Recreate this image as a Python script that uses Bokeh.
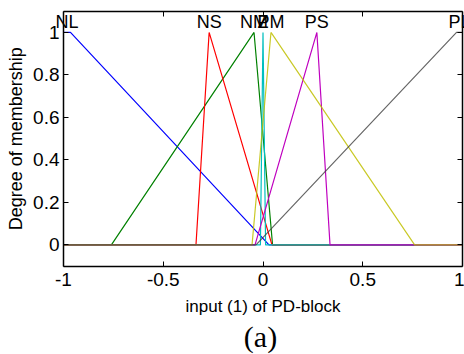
import math
from bokeh.plotting import figure
from bokeh.models import LinearAxis, FixedTicker, ColumnDataSource
from bokeh.core.properties import value
from bokeh.embed import file_html
from bokeh.resources import INLINE

# ---- data: trapezoidal membership functions (a, b, c, d) over the universe [-1, 1]
universe = [-1.0, 1.0]
mf_labels = ["NL", "NM", "NS", "Z", "PS", "PM", "PL"]          # drawing order (MATLAB colour order)
mf_a = [-2.0, -0.76, -0.336, -0.013, -0.04, -0.055, -0.035]
mf_b = [-1.0, -0.045, -0.27, 0.0, 0.27, 0.04, 0.97]
mf_c = [-0.965, -0.045, -0.27, 0.0, 0.27, 0.04, 1.0]
mf_d = [0.03, 0.048, 0.045, 0.013, 0.336, 0.76, 2.0]
mf_colors = ["#0000ff", "#008000", "#ff0000", "#00bfbf", "#bf00bf", "#bfbf00", "#404040"]

x_ticks = [-1, -0.5, 0, 0.5, 1]
x_tick_labels = ["-1", "-0.5", "0", "0.5", "1"]
y_ticks = [0, 0.2, 0.4, 0.6, 0.8, 1]
y_tick_labels = ["0", "0.2", "0.4", "0.6", "0.8", "1"]
y_lim = [-0.1, 1.1]

x_title = "input (1) of PD-block"
y_title = "Degree of membership"
caption = "(a)"


def trapmf(x, a, b, c, d):
    left = 1.0 if x >= b else ((x - a) / (b - a) if b > a else 0.0)
    right = 1.0 if x <= c else ((d - x) / (d - c) if d > c else 0.0)
    return max(min(left, 1.0, right), 0.0)


FONT = "Liberation Sans"
W, H = 464, 354
# axes box inside the full-canvas frame (pixels)
BOX_L, BOX_R, BOX_T, BOX_B = 63, 462, 10.7, 265.7
sx_unit = (BOX_R - BOX_L) / (universe[1] - universe[0])
sy_unit = (BOX_B - BOX_T) / (y_lim[1] - y_lim[0])
x_view = (universe[0] - BOX_L / sx_unit, universe[1] + (W - BOX_R) / sx_unit)
y_view = (y_lim[0] - (H - BOX_B) / sy_unit, y_lim[1] + BOX_T / sy_unit)


def px_to_x(px):
    return universe[0] + (px - BOX_L) / sx_unit


def px_to_y(py):
    return y_lim[0] - (py - BOX_B) / sy_unit


p = figure(width=W, height=H, x_range=x_view, y_range=y_view,
           output_backend="svg", toolbar_location=None,
           min_border_left=0, min_border_right=0, min_border_top=0, min_border_bottom=0)
p.grid.visible = False
p.outline_line_color = None
p.background_fill_color = "white"
p.border_fill_color = "white"

for i, name in enumerate(mf_labels):
    a, b, c, d = mf_a[i], mf_b[i], mf_c[i], mf_d[i]
    pts = sorted(set([universe[0], universe[1]] + [v for v in (a, b, c, d) if universe[0] <= v <= universe[1]]))
    ys = [trapmf(x, a, b, c, d) for x in pts]
    alpha = 0.8 if name == "PL" else (0.85 if name == "PM" else 1.0)
    p.line(pts, ys, line_color=mf_colors[i], line_width=1.2, line_alpha=alpha)

# MF names above each peak (centre of the top plateau), like MATLAB's plotmf
label_x = [min(max((mf_b[i] + mf_c[i]) / 2, universe[0]), universe[1]) for i in range(len(mf_labels))]
lab_src = ColumnDataSource(dict(x=label_x, y=[1.0] * len(mf_labels), t=mf_labels))
p.text("x", "y", text="t", source=lab_src, text_align="center", text_baseline="bottom",
       text_font=value(FONT), text_font_size="18px", text_color="black")

# axis titles and caption (bottom edge of each text box placed at the given pixel line)
mid_x = (universe[0] + universe[1]) / 2
mid_y = (y_lim[0] + y_lim[1]) / 2
p.text(x=[mid_x], y=[px_to_y(315)], text=[x_title], text_align="center", text_baseline="bottom",
       text_font=value(FONT), text_font_size="17px", text_color="black")
p.text(x=[px_to_x(25)], y=[mid_y], text=[y_title], angle=math.pi / 2, text_align="center",
       text_baseline="bottom", text_font=value(FONT), text_font_size="18px", text_color="black")
p.text(x=[px_to_x(260)], y=[px_to_y(352)], text=[caption], text_align="center", text_baseline="bottom",
       text_font=value("Liberation Serif"), text_font_size="30px", text_color="black")


def style_axis(ax, ticks, labels, show_labels=True):
    ax.ticker = FixedTicker(ticks=ticks)
    ax.major_label_overrides = {t: l for t, l in zip(ticks, labels)}
    ax.major_tick_in = 5
    ax.major_tick_out = 0
    ax.minor_tick_in = 0
    ax.minor_tick_out = 0
    ax.axis_line_color = "black"
    ax.axis_line_width = 1.5
    ax.major_tick_line_color = "black"
    ax.major_tick_line_width = 1
    ax.major_label_text_font = FONT
    ax.major_label_text_color = "black"
    if not show_labels:
        ax.major_label_text_font_size = "0px"
        ax.major_label_standoff = 0


xa = p.xaxis[0]
style_axis(xa, x_ticks, x_tick_labels)
xa.bounds = tuple(universe)
xa.fixed_location = y_lim[0]
xa.major_label_text_font_size = "19px"
xa.major_label_standoff = 7

ya = p.yaxis[0]
style_axis(ya, y_ticks, y_tick_labels)
ya.bounds = tuple(y_lim)
ya.fixed_location = universe[0]
ya.major_label_text_font_size = "19px"
ya.major_label_standoff = 4

top = LinearAxis()
style_axis(top, x_ticks, ["" for _ in x_ticks], show_labels=False)
top.bounds = tuple(universe)
top.fixed_location = y_lim[1]
p.add_layout(top, "above")

right = LinearAxis()
style_axis(right, y_ticks, ["" for _ in y_ticks], show_labels=False)
right.bounds = tuple(y_lim)
right.fixed_location = universe[1]
p.add_layout(right, "right")

open("out.html", "w").write(file_html(p, INLINE))
